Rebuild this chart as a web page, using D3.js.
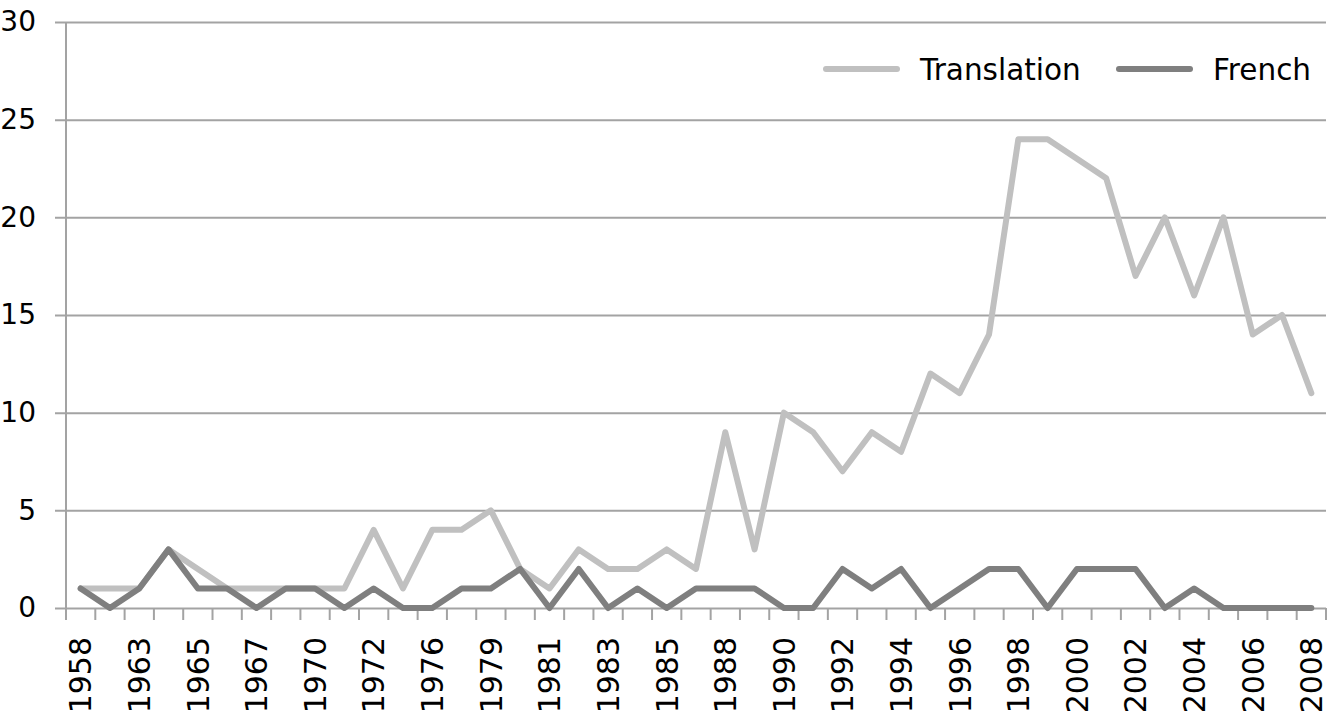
<!DOCTYPE html>
<html>
<head>
<meta charset="utf-8">
<script src="https://cdn.jsdelivr.net/npm/d3@7"></script>
<style>
  body { margin: 0; background: #fff; }
  text { font-family: "DejaVu Sans", sans-serif; fill: #000; }
</style>
</head>
<body>
<script>
// categories (only every other one is labelled on the axis)
let years = [
  "1958", "1960", "1963", "1964", "1965", "1966", "1967", "1968", "1970", "1971",
  "1972", "1974", "1976", "1977", "1979", "1980", "1981", "1982", "1983", "1984",
  "1985", "1987", "1988", "1989", "1990", "1991", "1992", "1993", "1994", "1995",
  "1996", "1997", "1998", "1999", "2000", "2001", "2002", "2003", "2004", "2005",
  "2006", "2007", "2008",
];
let translation = [
  1, 1, 1, 3, 2, 1, 1, 1, 1, 1,
  4, 1, 4, 4, 5, 2, 1, 3, 2, 2,
  3, 2, 9, 3, 10, 9, 7, 9, 8, 12,
  11, 14, 24, 24, 23, 22, 17, 20, 16, 20,
  14, 15, 11,
];
let french = [
  1, 0, 1, 3, 1, 1, 0, 1, 1, 0,
  1, 0, 0, 1, 1, 2, 0, 2, 0, 1,
  0, 1, 1, 1, 0, 0, 2, 1, 2, 0,
  1, 2, 2, 0, 2, 2, 2, 0, 1, 0,
  0, 0, 0,
];
let yTicks = [0, 5, 10, 15, 20, 25, 30];

let width = 1338;
let height = 713;
let plotLeft = 66, plotRight = 1326, plotTop = 22, plotBottom = 608;

let xScale = d3.scaleBand().domain(years).range([plotLeft, plotRight]).padding(0);
let yScale = d3.scaleLinear().domain([0, 30]).range([plotBottom, plotTop]);
let cx = (d) => xScale(d) + xScale.bandwidth() / 2;

let svg = d3
  .select("body")
  .append("svg")
  .attr("width", width)
  .attr("height", height);

// gridlines + y labels
let yAxis = svg
  .append("g")
  .attr("transform", "translate(55,0)")
  .call(d3.axisLeft(yScale).tickValues(yTicks).tickSize(-(plotRight - 55)).tickPadding(19));
yAxis.select(".domain").remove();
yAxis.selectAll("line").attr("stroke", "#a3a3a3").attr("stroke-width", 2);
yAxis.selectAll("text").attr("font-size", 28).style("font-family", "DejaVu Sans");

// y axis line
svg
  .append("line")
  .attr("x1", plotLeft).attr("x2", plotLeft)
  .attr("y1", plotTop).attr("y2", plotBottom + 12)
  .attr("stroke", "#a3a3a3").attr("stroke-width", 2);

// x tick marks between categories
let bounds = years.map((d) => xScale(d)).concat([plotRight]);
svg
  .selectAll(".xtick")
  .data(bounds)
  .enter()
  .append("line")
  .attr("class", "xtick")
  .attr("x1", (d) => d).attr("x2", (d) => d)
  .attr("y1", plotBottom).attr("y2", plotBottom + 12)
  .attr("stroke", "#a3a3a3").attr("stroke-width", 2);

// x labels, every other year
let xAxis = svg
  .append("g")
  .attr("transform", `translate(0,${plotBottom})`)
  .call(
    d3.axisBottom(xScale)
      .tickValues(years.filter((d, i) => i % 2 === 0))
      .tickSize(0)
  );
xAxis.select(".domain").remove();
xAxis
  .selectAll("text")
  .attr("font-size", 30)
  .style("font-family", "DejaVu Sans")
  .attr("text-anchor", "end")
  .attr("transform", "rotate(-90)")
  .attr("x", -29)
  .attr("y", 0)
  .attr("dy", "0.36em");

// lines
let series = [
  { name: "Translation", values: translation, color: "#c0c0c0" },
  { name: "French", values: french, color: "#7f7f7f" },
];
let line = d3
  .line()
  .x((d, i) => cx(years[i]))
  .y((d) => yScale(d));

svg
  .selectAll(".series")
  .data(series)
  .enter()
  .append("path")
  .attr("class", "series")
  .attr("d", (d) => line(d.values))
  .attr("fill", "none")
  .attr("stroke", (d) => d.color)
  .attr("stroke-width", 6)
  .attr("stroke-linejoin", "round")
  .attr("stroke-linecap", "round");

// legend
let legendX = [826, 1119];
let legend = svg
  .selectAll(".legend")
  .data(series)
  .enter()
  .append("g")
  .attr("class", "legend")
  .attr("transform", (d, i) => `translate(${legendX[i]},69)`);
legend
  .append("line")
  .attr("x1", 0).attr("x2", 71)
  .attr("stroke", (d) => d.color)
  .attr("stroke-width", 6)
  .attr("stroke-linecap", "round");
legend
  .append("text")
  .attr("x", 94)
  .attr("dy", "0.36em")
  .attr("font-size", 29.5)
  .text((d) => d.name);
</script>
</body>
</html>
